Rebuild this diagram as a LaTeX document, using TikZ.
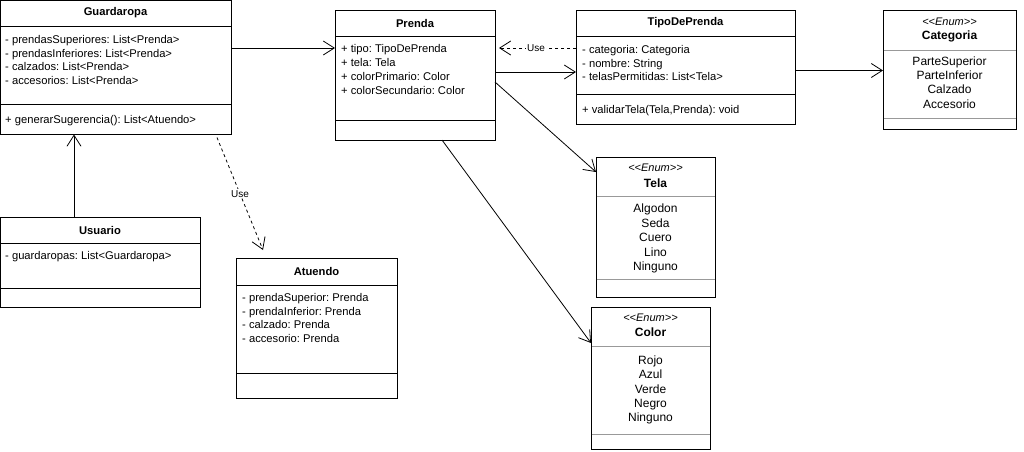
\documentclass[tikz,border=0pt]{standalone}
\usepackage{fontspec}
\setmainfont{Liberation Sans}
\usepackage{tikz}
\usetikzlibrary{arrows.meta}
\usetikzlibrary{positioning}
\definecolor[named]{EnumGrey}{gray}{0.6}
\newcommand{\fsz}{\fontsize{11.2}{13.8}\selectfont}
\newcommand{\esz}{\fontsize{12}{14.4}\selectfont}
\newcommand{\enumtag}{{<}{<}Enum{>}{>}}
\frenchspacing
\tikzset{
  umlbox/.style={draw, line width=1pt, anchor=north west, inner sep=0pt, outer sep=0pt},
  cname/.style={font=\fsz\bfseries, inner sep=0pt},
  ename/.style={font=\esz\bfseries, inner sep=0pt},
  fields/.style={font=\fsz, align=left, anchor=west, inner sep=0pt},
  items/.style={font=\esz, align=center, inner sep=0pt},
  stereo/.style={font=\fontsize{11}{13}\selectfont\itshape, inner sep=0pt},
  assoc/.style={line width=0.8pt, -{Straight Barb[length=11pt,width=14pt]}},
  use/.style={assoc, dash pattern=on 3pt off 3pt},
  uselbl/.style={font=\fontsize{10}{12}\selectfont, fill=white, inner sep=1pt}
}
\begin{document}
\begin{tikzpicture}[x=1pt,y=-1pt]
  \useasboundingbox (0,0) rectangle (1024,451);
  % classes
  \node[umlbox, minimum width=231pt, minimum height=134pt] (guard) at (0.5,0.5) {};
  \draw (0.5,26) -- (231.5,26) (0.5,104) -- (231.5,104);
  \node[cname] (guardT) at (115.5,13) {Guardaropa};
  \node[fields] (guardF) at (5,60) {- prendasSuperiores: List<Prenda>\\- prendasInferiores: List<Prenda>\\- calzados: List<Prenda>\\- accesorios: List<Prenda>};
  \node[fields] (guardM) at (5,121) {+ generarSugerencia(): List<Atuendo>};

  \node[umlbox, minimum width=160pt, minimum height=130pt] (prenda) at (335,10) {};
  \draw (335,36) -- (495,36) (335,120) -- (495,120);
  \node[cname] (prendaT) at (415,23) {Prenda};
  \node[fields] (prendaF) at (341,69.5) {+ tipo: TipoDePrenda\\+ tela: Tela\\+ colorPrimario: Color\\+ colorSecundario: Color};

  \node[umlbox, minimum width=219pt, minimum height=114pt] (tipo) at (576,10) {};
  \draw (576,36) -- (795,36) (576,94) -- (795,94);
  \node[cname] (tipoT) at (685.5,23) {TipoDePrenda};
  \node[fields] (tipoF) at (582,63) {- categoria: Categoria\\- nombre: String\\- telasPermitidas: List<Tela>};
  \node[fields] (tipoM) at (582,111) {+ validarTela(Tela,Prenda): void};

  \node[umlbox, minimum width=199.5pt, minimum height=90pt] (usuario) at (0.5,217) {};
  \draw (0.5,243) -- (200,243) (0.5,288) -- (200,288);
  \node[cname] (usuarioT) at (100,230) {Usuario};
  \node[fields] (usuarioF) at (5,257) {- guardaropas: List<Guardaropa>};

  \node[umlbox, minimum width=161pt, minimum height=140pt] (atuendo) at (236,258) {};
  \draw (236,285) -- (397,285) (236,373) -- (397,373);
  \node[cname] (atuendoT) at (316.5,271) {Atuendo};
  \node[fields] (atuendoF) at (242,318) {- prendaSuperior: Prenda\\- prendaInferior: Prenda\\- calzado: Prenda\\- accesorio: Prenda};

  % enums
  \node[umlbox, minimum width=133pt, minimum height=119pt] (categ) at (883,10) {};
  \draw[EnumGrey] (883.5,50) -- (1015.5,50) (883.5,118) -- (1015.5,118);
  \node[stereo] (categS) at (949.5,22) {\enumtag};
  \node[ename] (categT) at (949.5,36) {Categoria};
  \node[items] (categI) at (949.5,82.5) {ParteSuperior\\ParteInferior\\Calzado\\Accesorio};

  \node[umlbox, minimum width=119pt, minimum height=140pt] (tela) at (596,157) {};
  \draw[EnumGrey] (596.5,196) -- (714.5,196) (596.5,279) -- (714.5,279);
  \node[stereo] (telaS) at (655.5,168) {\enumtag};
  \node[ename] (telaT) at (655.5,183) {Tela};
  \node[items] (telaI) at (655.5,238.5) {Algodon\\Seda\\Cuero\\Lino\\Ninguno};

  \node[umlbox, minimum width=119pt, minimum height=142.5pt] (color) at (591,307) {};
  \draw[EnumGrey] (591.5,346) -- (709.5,346) (591.5,434) -- (709.5,434);
  \node[stereo] (colorS) at (650.5,318) {\enumtag};
  \node[ename] (colorT) at (650.5,332) {Color};
  \node[items] (colorI) at (650.5,390) {Rojo\\Azul\\Verde\\Negro\\Ninguno};

  % connectors
  \draw[assoc] ([yshift=-47.5pt]guard.north east) -- ([yshift=-38pt]prenda.north west);
  \draw[use] ([yshift=-38pt]tipo.north west) -- ([xshift=4pt,yshift=-38pt]prenda.north east)
    node[uselbl, pos=0.52] (useP) {Use};
  \draw[assoc] ([yshift=-62pt]prenda.north east) -- ([yshift=-62pt]tipo.north west);
  \draw[assoc] ([yshift=-60.5pt]tipo.north east) -- ([yshift=-60.5pt]categ.north west);
  \draw[assoc] ([yshift=-72pt]prenda.north east) -- ([yshift=-15pt]tela.north west);
  \draw[assoc] ([xshift=107pt]prenda.south west) -- ([yshift=-36pt]color.north west);
  \draw[assoc] ([xshift=73.5pt]usuario.north west) -- ([xshift=73.5pt]guard.south west);
  \draw[use] ([xshift=216.5pt,yshift=-3pt]guard.south west) -- ([xshift=27pt,yshift=8pt]atuendo.north west)
    node[uselbl, midway] (useA) {Use};
\end{tikzpicture}
\end{document}
